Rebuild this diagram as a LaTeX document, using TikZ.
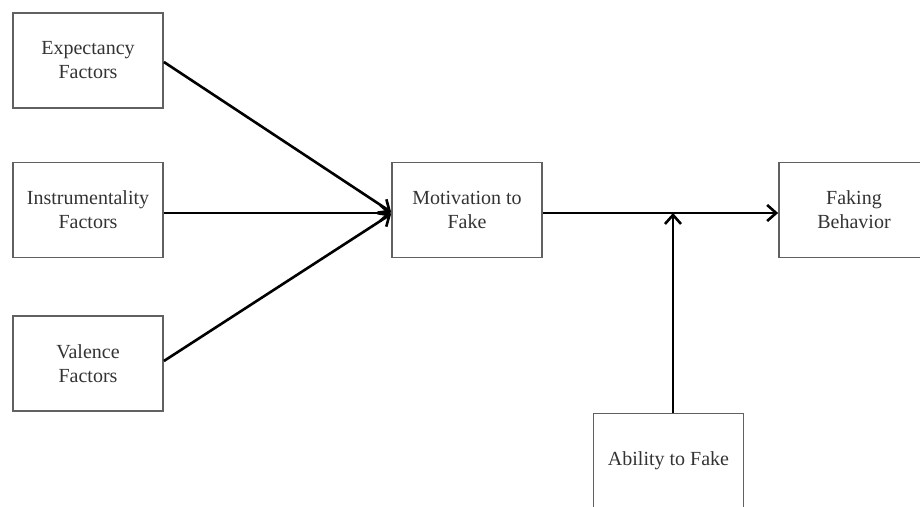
\documentclass[tikz,border=0pt]{standalone}
\usepackage{fontspec}
\setmainfont{Liberation Serif}
\usetikzlibrary{arrows.meta}
\begin{document}
\begin{tikzpicture}[x=1pt,y=-1pt,
  box/.style={draw=black!62,line width=1.8pt,minimum width=150pt,minimum height=95pt,
    align=center,inner sep=0pt,font=\fontsize{20}{24}\selectfont,text=black!80},
  conn/.style={line width=2.6pt,-{Straight Barb[length=9pt,width=16pt,line width=2.6pt]}}]
\useasboundingbox (0,0) rectangle (920,506);
\clip (0,0) rectangle (920,506);
\node[box] (exp) at (88,60.5) {Expectancy\\Factors};
\node[box] (ins) at (88,210) {Instrumentality\\Factors};
\node[box] (val) at (88,363.5) {Valence\\Factors};
\node[box] (mot) at (467,210) {Motivation to\\Fake};
\node[box] (fak) at (854,210) {Faking\\Behavior};
\node[box] (abi) at (668.5,461) {Ability to Fake};
\coordinate (j) at (673,213);
\draw[conn] (exp.east |- 0,62) -- (mot.west |- 0,212);
\draw[conn] (ins.east |- 0,213) -- (mot.west |- 0,213);
\draw[conn] (val.east |- 0,361) -- (mot.west |- 0,214);
\draw[conn] (mot.east |- 0,213) -- (fak.west |- 0,213);
\draw[conn] (abi.north -| j) -- (j);
\end{tikzpicture}
\end{document}
